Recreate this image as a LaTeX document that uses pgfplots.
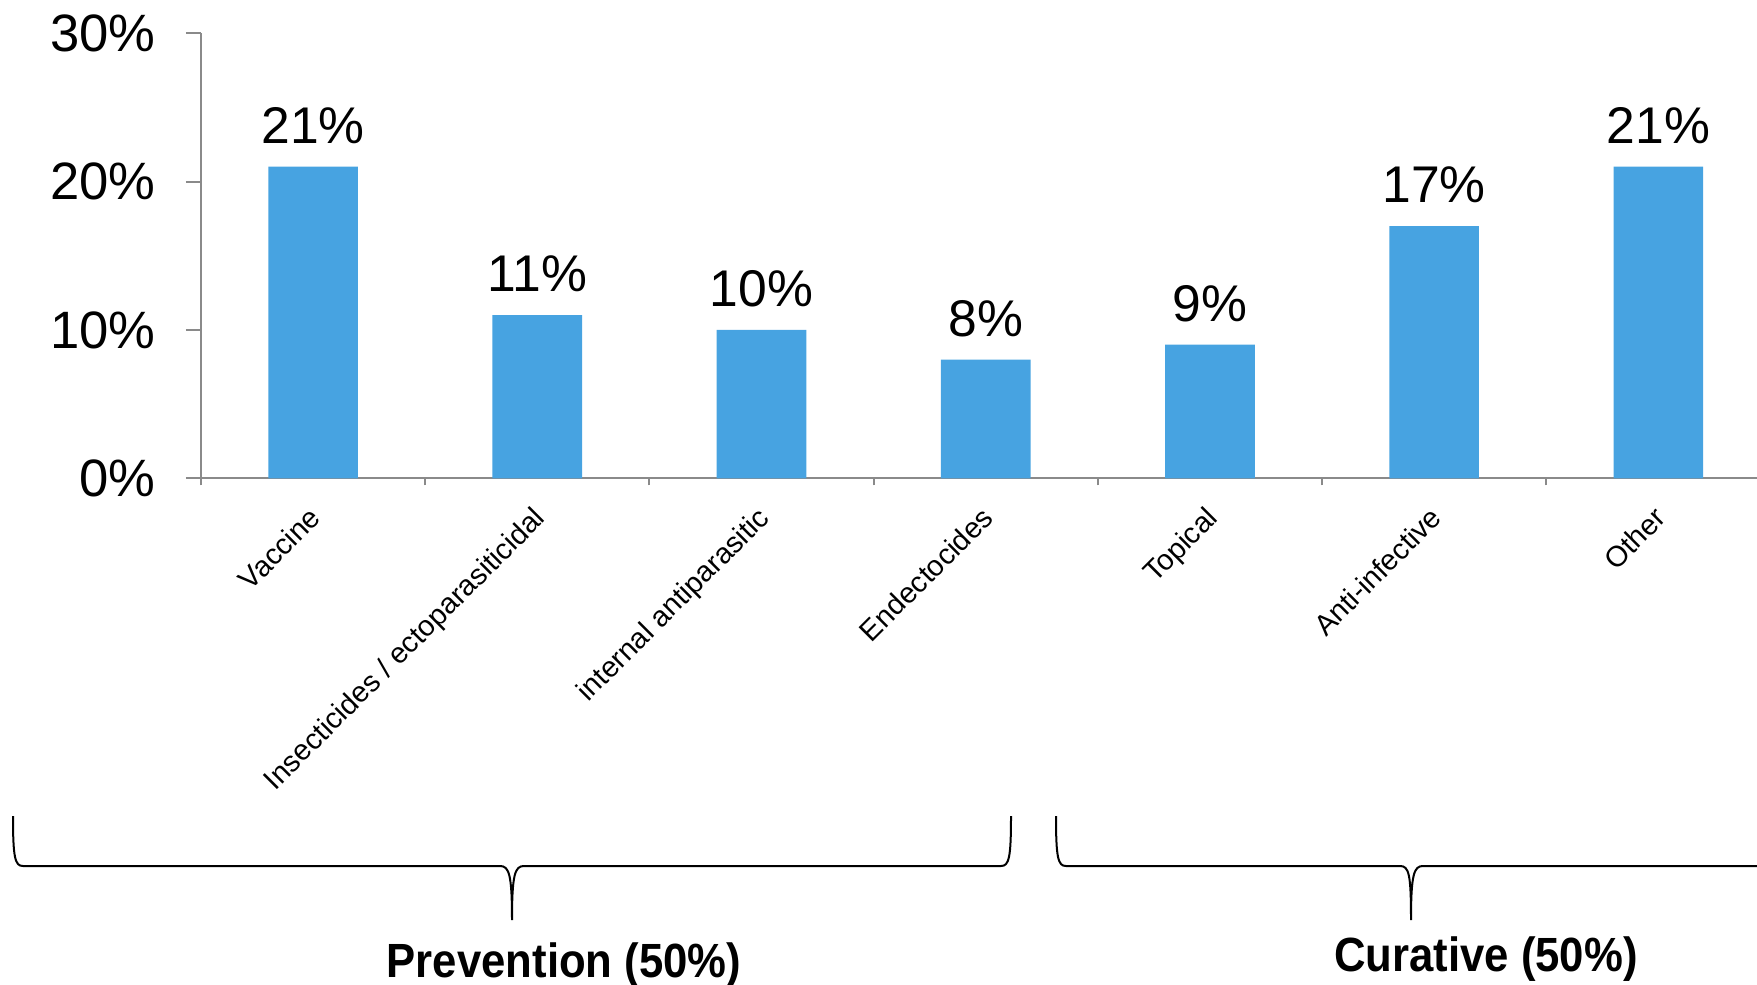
\documentclass[border=0pt]{standalone}
\usepackage{pgfplots}
\pgfplotsset{compat=1.18}
\usepackage{fontspec}
\setmainfont{Liberation Sans}
\definecolor{barblue}{HTML}{47A3E1}
\definecolor{axisgray}{HTML}{8A8A8A}

\begin{document}
\begin{tikzpicture}
\begin{axis}[
  at={(100.5pt,-239.15pt)}, anchor=south west,
  scale only axis, width=778pt, height=222.6pt,
  axis lines=left,
  axis line style={axisgray, line width=1pt, -},
  /pgf/number format/assume math mode=true,
  ymin=0, ymax=30,
  ytick={0,10,20,30},
  yticklabels={0\%,10\%,20\%,30\%},
  xmin=-0.5, xmax=6.44,
  xtick={0,1,2,3,4,5,6},
  xticklabels={Vaccine, Insecticides / ectoparasiticidal, internal antiparasitic,
    Endectocides, Topical, Anti-infective, Other},
  major x tick style={draw=none},
  minor xtick={-0.5,0.5,...,6.5},
  tick align=outside,
  major tick length=7.5pt, minor tick length=3.5pt,
  tick style={axisgray, line width=1pt},
  yticklabel style={font=\fontsize{26.3}{30}\selectfont, inner sep=0pt, xshift=-15.1pt},
  xticklabel style={font=\fontsize{14.5}{17}\selectfont, xshift=-2.8pt, yshift=-5.6pt,
    rotate=45, anchor=north east, inner sep=0pt},
  ybar, bar width=0.4,
  nodes near coords={\pgfmathprintnumber{\pgfplotspointmeta}\%},
  every node near coord/.append style={font=\fontsize{25.8}{30}\selectfont, anchor=base, inner sep=0pt, yshift=11.6pt},
]
\addplot[fill=barblue, draw=none] coordinates {(0,21) (1,11) (2,10) (3,8) (4,9) (5,17) (6,21)};
\end{axis}

\begin{scope}[x=0.5pt, y=-0.5pt, line width=1pt]
  % Prevention brace
  \draw (13,816) .. controls (13,858) and (15,866) .. (23,866) -- (500,866)
    .. controls (509,866) and (512,874) .. (512,920)
    .. controls (512,874) and (515,866) .. (524,866) -- (1001,866)
    .. controls (1009,866) and (1011,858) .. (1011,816);
  % Curative brace
  \draw (1056,816) .. controls (1056,858) and (1058,866) .. (1066,866) -- (1400,866)
    .. controls (1409,866) and (1411,874) .. (1411,920)
    .. controls (1411,874) and (1414,866) .. (1423,866) -- (1800,866);
  \node[anchor=base, inner sep=0pt, font=\fontsize{24}{28}\selectfont\bfseries] at (564,977)
    {\scalebox{0.91}[1]{Prevention (50\%)}};
  \node[anchor=base, inner sep=0pt, font=\fontsize{24}{28}\selectfont\bfseries] at (1486,971)
    {\scalebox{0.91}[1]{Curative (50\%)}};
\end{scope}

\pgfresetboundingbox
\path[use as bounding box] (0,0) rectangle (878.5pt,-492.5pt);
\end{tikzpicture}
\end{document}
